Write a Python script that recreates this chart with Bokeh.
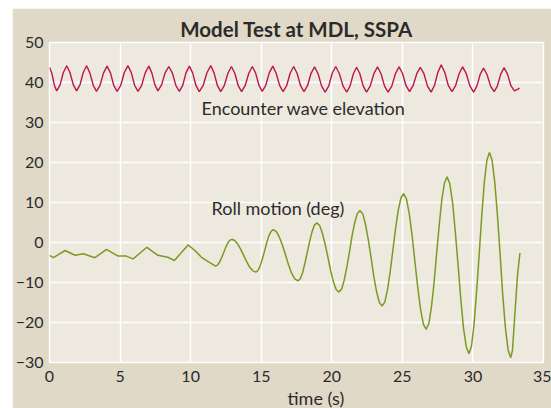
from bokeh.plotting import figure
from bokeh.models import Range1d, FixedTicker, Label, Spacer, Title
from bokeh.layouts import row, column
from bokeh.embed import file_html
from bokeh.resources import INLINE

# ---------------- data ----------------
title_text = "Model Test at MDL, SSPA"
x_ticks = [0, 5, 10, 15, 20, 25, 30, 35]
y_ticks = [-30, -20, -10, 0, 10, 20, 30, 40, 50]
x_label = "time (s)"
wave_label = "Encounter wave elevation"
roll_label = "Roll motion (deg)"

wave_t = [0.00, 0.17, 0.34, 0.51, 0.75, 0.98, 1.22, 1.45, 1.69, 1.92, 2.16, 2.39, 2.63,
          2.86, 3.10, 3.33, 3.58, 3.83, 4.08, 4.32, 4.55, 4.79, 5.05, 5.30, 5.56,
          5.80, 6.03, 6.27, 6.53, 6.78, 7.04, 7.25, 7.47, 7.68, 7.94, 8.19, 8.45,
          8.70, 8.95, 9.20, 9.44, 9.67, 9.91, 10.14, 10.38, 10.61, 10.88, 11.16, 11.43,
          11.66, 11.90, 12.13, 12.38, 12.64, 12.89, 13.13, 13.37, 13.61, 13.86, 14.12, 14.37,
          14.60, 14.84, 15.07, 15.32, 15.57, 15.82, 16.06, 16.31, 16.55, 16.80, 17.05, 17.30,
          17.54, 17.79, 18.03, 18.28, 18.53, 18.78, 19.03, 19.28, 19.53, 19.78, 20.03, 20.28,
          20.54, 20.80, 21.06, 21.29, 21.53, 21.76, 21.99, 22.23, 22.46, 22.72, 22.98, 23.24,
          23.49, 23.74, 23.99, 24.25, 24.51, 24.77, 25.02, 25.26, 25.51, 25.76, 26.02, 26.27,
          26.53, 26.78, 27.04, 27.28, 27.51, 27.75, 28.01, 28.26, 28.52, 28.77, 29.02, 29.27,
          29.53, 29.79, 30.05, 30.28, 30.52, 30.75, 31.00, 31.25, 31.50, 31.73, 31.97, 32.20,
          32.45, 32.69, 32.94, 33.12, 33.30]
wave_y = [43.8, 42.3, 39.4, 37.9, 39.4, 42.5, 44.2, 42.5, 39.4, 37.9, 39.4, 42.5, 44.2,
          42.4, 39.3, 37.8, 39.3, 42.4, 44.1, 42.4, 39.3, 37.8, 39.3, 42.5, 44.2,
          42.4, 39.3, 37.8, 39.3, 42.4, 44.1, 42.4, 39.4, 37.9, 39.4, 42.4, 44.0,
          42.4, 39.3, 37.8, 39.3, 42.4, 44.1, 42.4, 39.2, 37.7, 39.2, 42.5, 44.2,
          42.4, 39.2, 37.7, 39.2, 42.3, 44.0, 42.3, 39.2, 37.7, 39.2, 42.3, 44.0,
          42.4, 39.3, 37.8, 39.3, 42.4, 44.1, 42.3, 39.2, 37.7, 39.2, 42.3, 44.0,
          42.3, 39.2, 37.7, 39.2, 42.3, 43.9, 42.2, 39.1, 37.6, 39.1, 42.3, 44.0,
          42.2, 39.1, 37.6, 39.1, 42.2, 43.8, 42.2, 39.1, 37.6, 39.1, 42.2, 43.9,
          42.2, 39.1, 37.6, 39.1, 42.2, 43.9, 42.2, 39.2, 37.7, 39.2, 42.2, 43.8,
          42.2, 39.1, 37.6, 39.3, 42.5, 44.4, 42.5, 39.2, 37.7, 39.2, 42.2, 43.9,
          42.2, 39.1, 37.6, 39.1, 42.1, 43.6, 42.0, 39.1, 37.7, 39.1, 42.1, 43.7,
          42.1, 39.2, 37.9, 38.2, 38.6]

roll_t = [0.00, 0.28, 1.10, 1.81, 2.39, 3.22, 4.04, 4.86, 5.44, 5.92, 6.90, 7.68, 8.38,
          8.85, 9.82, 10.30, 10.80, 11.30, 11.76,
          11.90, 12.05, 12.19, 12.34, 12.48, 12.62, 12.77, 12.91,
          13.12, 13.34, 13.55, 13.77, 13.98, 14.19, 14.41, 14.62,
          14.77, 14.93, 15.08, 15.24, 15.39, 15.54, 15.70, 15.85,
          16.07, 16.29, 16.51, 16.73, 16.94, 17.16, 17.38, 17.60,
          17.77, 17.94, 18.10, 18.27, 18.44, 18.61, 18.77, 18.94,
          19.14, 19.33, 19.53, 19.73, 19.92, 20.12, 20.31, 20.51,
          20.70, 20.88, 21.07, 21.26, 21.44, 21.63, 21.81, 22.00,
          22.20, 22.39, 22.59, 22.79, 22.98, 23.18, 23.37, 23.57,
          23.76, 23.95, 24.14, 24.33, 24.52, 24.71, 24.90, 25.09,
          25.29, 25.49, 25.69, 25.89, 26.09, 26.29, 26.49, 26.69,
          26.88, 27.06, 27.25, 27.43, 27.62, 27.80, 27.99, 28.17,
          28.36, 28.56, 28.75, 28.95, 29.14, 29.33, 29.53, 29.72,
          29.90, 30.08, 30.26, 30.45, 30.63, 30.81, 30.99, 31.17,
          31.36, 31.55, 31.74, 31.93, 32.11, 32.30, 32.49, 32.68,
          32.80, 32.98, 33.15, 33.33]
roll_y = [-3.2, -3.8, -2.0, -3.2, -2.8, -3.8, -1.7, -3.4, -3.4, -4.1, -1.2, -3.2, -3.7,
          -4.5, -0.6, -2.0, -3.8, -4.9, -5.9,
          -5.64, -4.92, -3.83, -2.55, -1.27, -0.18, 0.54, 0.8,
          0.49, -0.40, -1.73, -3.3, -4.87, -6.20, -7.09, -7.4,
          -7.00, -5.85, -4.13, -2.1, -0.07, 1.65, 2.80, 3.2,
          2.71, 1.33, -0.75, -3.2, -5.65, -7.73, -9.11, -9.6,
          -9.05, -7.48, -5.12, -2.35, 0.42, 2.78, 4.35, 4.9,
          4.24, 2.37, -0.44, -3.75, -7.06, -9.87, -11.74, -12.4,
          -11.62, -9.41, -6.10, -2.2, 1.70, 5.01, 7.22, 8.0,
          7.09, 4.50, 0.62, -3.95, -8.52, -12.40, -14.99, -15.9,
          -14.83, -11.79, -7.23, -1.85, 3.53, 8.09, 11.13, 12.2,
          10.91, 7.24, 1.74, -4.75, -11.24, -16.74, -20.41, -21.7,
          -20.25, -16.12, -9.94, -2.65, 4.64, 10.82, 14.95, 16.4,
          14.72, 9.93, 2.76, -5.7, -14.16, -21.33, -26.12, -27.8,
          -25.88, -20.44, -12.27, -2.65, 6.97, 15.14, 20.58, 22.5,
          20.55, 14.99, 6.66, -3.15, -12.96, -21.29, -26.85, -28.8,
          -27.0, -17.5, -8.5, -2.6]

# ---------------- styling ----------------
PANEL = "#e0d9c8"
PLOT_BG = "#ede9df"
TEXT = "#2b2b2b"
WAVE_COLOR = "#bd1550"
ROLL_COLOR = "#7a9a22"
FONT = "Lato"

p = figure(width=539, height=400, output_backend="svg", toolbar_location=None,
           x_range=Range1d(0, 35), y_range=Range1d(-30, 50),
           min_border_left=34, min_border_right=8, min_border_top=34, min_border_bottom=45,
           background_fill_color=PLOT_BG, border_fill_color=PANEL,
           outline_line_color="white", outline_line_width=1.5)

p.title.text = title_text
p.title.align = "center"
p.title.text_font = FONT
p.title.text_font_size = "20.5px"
p.title.text_font_style = "bold"
p.title.text_color = TEXT
p.title.offset = 0
p.title.standoff = 4

p.xaxis.ticker = FixedTicker(ticks=x_ticks)
p.yaxis.ticker = FixedTicker(ticks=y_ticks)
for ax in (p.xaxis, p.yaxis):
    ax.axis_line_color = None
    ax.major_tick_line_color = None
    ax.minor_tick_line_color = None
    ax.major_tick_out = 0
    ax.major_tick_in = 0
    ax.major_label_text_font = FONT
    ax.major_label_text_font_size = "16px"
    ax.major_label_text_color = TEXT
p.xaxis.major_label_standoff = 8
p.yaxis.major_label_standoff = 6

p.grid.grid_line_color = "white"
p.grid.grid_line_width = 1.5

p.line(wave_t, wave_y, line_color=WAVE_COLOR, line_width=1.4)
p.line(roll_t, roll_y, line_color=ROLL_COLOR, line_width=1.5)

p.add_layout(Label(x=10.77, y=33.74, text=wave_label, text_font=FONT, text_font_size="18px",
                   text_color=TEXT, text_baseline="middle", text_align="left"))
p.add_layout(Label(x=11.48, y=8.7, text=roll_label, text_font=FONT, text_font_size="18px",
                   text_color=TEXT, text_baseline="middle", text_align="left"))

xlab = Title(text=x_label, align="left", offset=238, standoff=0, text_font=FONT,
             text_font_size="18px", text_font_style="normal", text_color=TEXT)
p.add_layout(xlab, "below")

layout = column(Spacer(width=551, height=8), row(Spacer(width=12, height=400), p))

open("out.html", "w").write(file_html(layout, INLINE))
